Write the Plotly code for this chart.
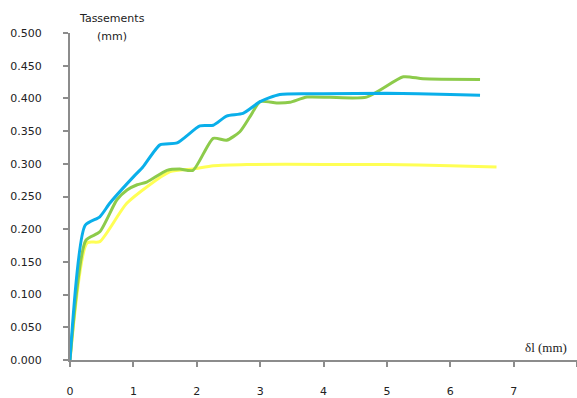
import plotly.graph_objects as go

# Blue series
blue_x = [0, 0.24, 0.47, 0.63, 1.0, 1.15, 1.42, 1.69, 2.05, 2.26, 2.47, 2.73, 3.0, 3.31, 4.0, 5.0, 6.0, 6.47]
blue_y = [0, 0.206, 0.219, 0.240, 0.280, 0.295, 0.329, 0.332, 0.358, 0.359, 0.373, 0.377, 0.395, 0.406, 0.407, 0.408, 0.406, 0.405]

# Green series
green_x = [0, 0.25, 0.47, 0.74, 0.9, 1.06, 1.21, 1.53, 1.73, 1.94, 2.26, 2.47, 2.68, 2.84, 3.0, 3.26, 3.47, 3.74, 4.68, 5.26, 5.57, 6.47]
green_y = [0, 0.183, 0.196, 0.245, 0.260, 0.268, 0.272, 0.290, 0.292, 0.290, 0.339, 0.336, 0.349, 0.372, 0.395, 0.393, 0.394, 0.402, 0.402, 0.433, 0.430, 0.429]

# Yellow series
yellow_x = [0, 0.27, 0.47, 0.9, 1.58, 1.94, 2.26, 2.79, 4.0, 5.0, 6.0, 6.73]
yellow_y = [0, 0.179, 0.181, 0.240, 0.288, 0.292, 0.297, 0.299, 0.299, 0.299, 0.297, 0.295]

y_ticks = [i * 0.05 for i in range(11)]
x_ticks = list(range(9))

fig = go.Figure()
for xs, ys, col in [(yellow_x, yellow_y, "#FFFF55"), (green_x, green_y, "#8DCB4B"), (blue_x, blue_y, "#0AAFEA")]:
    fig.add_trace(go.Scatter(x=xs, y=ys, mode="lines",
                             line=dict(color=col, width=3, shape="spline", smoothing=0.6),
                             showlegend=False, hoverinfo="skip"))

axis_common = dict(showgrid=False, zeroline=False, showline=True, linecolor="#8C8C8C",
                   linewidth=2, ticks="outside", tickcolor="#8C8C8C", ticklen=5, tickwidth=2,
                   automargin=False,
                   tickfont=dict(family="DejaVu Sans", size=11, color="#222"))

fig.update_layout(
    width=577, height=398,
    margin=dict(l=70, r=0, t=33, b=38),
    paper_bgcolor="white", plot_bgcolor="white",
    xaxis=dict(range=[0, 8], tickvals=x_ticks, ticktext=[str(v) for v in x_ticks],
               ticklabelstandoff=15, **axis_common),
    yaxis=dict(range=[0, 0.5], tickvals=y_ticks, ticktext=["%.3f" % v for v in y_ticks],
               ticklabelstandoff=19, **axis_common),
    annotations=[
        dict(text="Tassements", x=112, y=380, xref="paper", yref="paper", showarrow=False,
             font=dict(family="DejaVu Sans", size=11, color="#222")),
        dict(text="(mm)", x=112, y=361, xref="paper", yref="paper", showarrow=False,
             font=dict(family="DejaVu Sans", size=11, color="#222")),
        dict(text="δl (mm)", x=546, y=51, xref="paper", yref="paper", showarrow=False,
             font=dict(family="Liberation Serif", size=13, color="#222")),
    ],
)
# convert pixel-based annotation positions to paper coordinates
pw, ph = 577 - 70, 398 - 33 - 38
for a in fig.layout.annotations:
    px, py = a.x, a.y
    a.x = (px - 70) / pw
    a.y = (py - 38) / ph
    a.xanchor = "center"
    a.yanchor = "middle"
fig.write_html("out.html", config={"displayModeBar": False},
               post_script="document.body.style.margin='0';document.body.style.overflow='hidden';")
